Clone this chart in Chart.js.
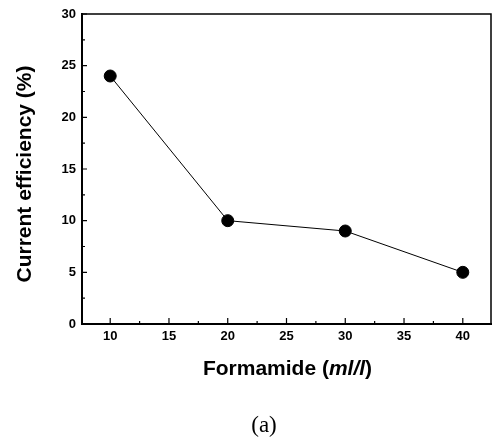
<!DOCTYPE html>
<html>
<head>
<meta charset="utf-8">
<script src="https://cdn.jsdelivr.net/npm/chart.js@4"></script>
<style>
html,body{margin:0;padding:0;background:#fff;}
#wrap{width:493px;height:444px;position:relative;}
</style>
</head>
<body>
<div id="wrap"><canvas id="c" width="493" height="444"></canvas></div>
<script>
// Data
const formamide = [10, 20, 30, 40];
const efficiency = [24, 10, 9, 5];
const xTickLabels = [10, 15, 20, 25, 30, 35, 40];
const yTickLabels = [0, 5, 10, 15, 20, 25, 30];
const xMinorTicks = [12.5, 17.5, 22.5, 27.5, 32.5, 37.5];
const yMinorTicks = [2.5, 7.5, 12.5, 17.5, 22.5, 27.5];

const points = formamide.map((x, i) => ({x: x, y: efficiency[i]}));

const decor = {
  id: 'decor',
  afterDraw(chart) {
    const ctx = chart.ctx;
    const a = chart.chartArea;
    const xs = chart.scales.x, ys = chart.scales.y;
    ctx.save();
    ctx.strokeStyle = '#000';
    // box top & right
    ctx.lineWidth = 1.5;
    ctx.beginPath();
    ctx.moveTo(a.left, a.top); ctx.lineTo(a.right, a.top); ctx.lineTo(a.right, a.bottom);
    ctx.stroke();
    // inward ticks
    ctx.lineWidth = 1.2;
    ctx.beginPath();
    xTickLabels.forEach(v => { const p = xs.getPixelForValue(v); ctx.moveTo(p, a.bottom); ctx.lineTo(p, a.bottom - 6); });
    xMinorTicks.forEach(v => { const p = xs.getPixelForValue(v); ctx.moveTo(p, a.bottom); ctx.lineTo(p, a.bottom - 3); });
    yTickLabels.forEach(v => { const p = ys.getPixelForValue(v); ctx.moveTo(a.left, p); ctx.lineTo(a.left + 5, p); });
    yMinorTicks.forEach(v => { const p = ys.getPixelForValue(v); ctx.moveTo(a.left, p); ctx.lineTo(a.left + 3, p); });
    ctx.stroke();
    // y title
    ctx.fillStyle = '#000';
    ctx.textAlign = 'center';
    ctx.textBaseline = 'middle';
    ctx.font = 'bold 21px "Liberation Sans", Arial, sans-serif';
    ctx.save();
    ctx.translate(25, (a.top + a.bottom) / 2 + 5);
    ctx.rotate(-Math.PI / 2);
    ctx.fillText('Current efficiency (%)', 0, 0);
    ctx.restore();
    // x title with italic part
    const parts = [
      {t: 'Formamide (', f: 'bold 21px "Liberation Sans", Arial, sans-serif'},
      {t: 'ml/l', f: 'italic bold 21px "Liberation Sans", Arial, sans-serif'},
      {t: ')', f: 'bold 21px "Liberation Sans", Arial, sans-serif'}
    ];
    let total = 0;
    parts.forEach(p => { ctx.font = p.f; p.w = ctx.measureText(p.t).width; total += p.w; });
    let x = (a.left + a.right) / 2 + 1 - total / 2;
    ctx.textAlign = 'left';
    parts.forEach(p => { ctx.font = p.f; ctx.fillText(p.t, x, 369); x += p.w; });
    // caption
    ctx.textAlign = 'center';
    ctx.font = '23px "Liberation Serif", "Times New Roman", serif';
    ctx.fillText('(a)', 264, 426);
    ctx.restore();
  }
};

new Chart(document.getElementById('c'), {
  type: 'line',
  data: {
    datasets: [{
      data: points,
      borderColor: '#000',
      borderWidth: 1,
      backgroundColor: '#000',
      pointBackgroundColor: '#000',
      pointBorderColor: '#000',
      pointRadius: 6,
      pointHoverRadius: 6,
      tension: 0,
      fill: false
    }]
  },
  options: {
    responsive: false,
    animation: false,
    events: [],
    layout: {autoPadding: false, padding: {top: 14, right: 2, left: 0, bottom: 0}},
    plugins: {legend: {display: false}, tooltip: {enabled: false}, title: {display: false}},
    scales: {
      x: {
        type: 'linear',
        min: 7.6,
        max: 42.4,
        afterBuildTicks: s => { s.ticks = xTickLabels.map(v => ({value: v})); },
        afterFit: s => { s.height = 120; },
        grid: {display: false, drawTicks: false},
        border: {display: true, color: '#000', width: 2},
        ticks: {color: '#000', padding: 5, font: {family: '"Liberation Sans", Arial, sans-serif', size: 13, weight: 'bold'}, maxRotation: 0}
      },
      y: {
        type: 'linear',
        min: 0,
        max: 30,
        afterBuildTicks: s => { s.ticks = yTickLabels.map(v => ({value: v})); },
        afterFit: s => { s.width = 82; },
        grid: {display: false, drawTicks: false},
        border: {display: true, color: '#000', width: 2},
        ticks: {color: '#000', padding: 6, font: {family: '"Liberation Sans", Arial, sans-serif', size: 13, weight: 'bold'}}
      }
    }
  },
  plugins: [decor]
});
</script>
</body>
</html>
